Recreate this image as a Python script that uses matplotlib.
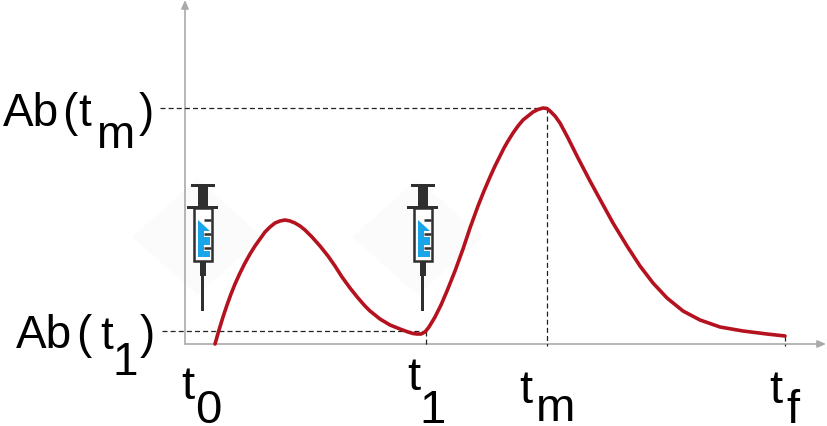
import matplotlib
matplotlib.use('Agg')
import matplotlib.pyplot as plt
from matplotlib.patches import Polygon, Rectangle

plt.rcParams['font.family'] = ['Liberation Sans', 'DejaVu Sans']

# values, in picture pixels
curve_x = [215, 219, 223, 227, 231, 235, 240, 245, 250, 255, 260, 265, 270, 275, 280, 285, 290, 295, 300, 305,
           312, 320, 328, 335, 342, 350, 358, 365, 370, 380, 390, 400, 408, 413, 417, 421, 425, 429, 435,
           441, 447, 455, 463, 470, 478, 484, 490, 495, 500, 504, 508, 513, 518, 523, 528, 533, 538, 543,
           547, 550, 555, 560, 568, 578, 590, 602, 613, 627, 640, 653, 667, 683, 700, 720, 743, 767, 785]
curve_y = [345, 331, 318, 306, 295, 285, 274, 264, 255, 247, 240, 233, 228, 224, 222, 221, 222, 224, 227, 231,
           238, 247, 257, 267, 278, 289, 299, 307, 312, 320, 326, 330, 333, 334.5, 335, 335, 333, 328, 318,
           306, 292, 272, 250, 229, 207, 192, 178, 167, 157, 149, 142, 134, 127, 121, 117, 113, 110.5, 109,
           109.5, 112, 117, 124, 139, 159, 182, 204, 224, 247, 267, 284, 299, 312, 321, 328, 332, 335, 337]

axis_x0 = 185
axis_y0 = 345
tm_x = 547
t1_x = 426
tf_x = 785
ab_tm = 109
ab_t1 = 332
syringe_x = [202.5, 422.5]

fig = plt.figure(figsize=(8.27, 4.27), dpi=100)
ax = fig.add_axes([0, 0, 1, 1])
ax.set_xlim(0, 827)
ax.set_ylim(427, 0)
ax.axis('off')

grey = '#aaaaaa'
ink = '#2f2f2f'


def draw_syringe(cx):
    ax.add_patch(Polygon([(cx - 70, 238), (cx - 5, 180), (cx + 60, 238), (cx - 5, 296)], color='#fbfbfb', lw=0, zorder=1))
    parts = [(-12, 185, 24, 2.5), (-5, 187, 10, 20), (-15.5, 206.5, 31, 3.5)]
    parts += [(-3, 262, 6, 15), (-1.5, 277, 3, 35)]
    for dx, y, w, h in parts:
        ax.add_patch(Rectangle((cx + dx, y), w, h, color=ink, lw=0, zorder=3))
    ax.add_patch(Rectangle((cx - 8.5, 209), 17.5, 53, fc='white', ec=ink, lw=1.8, zorder=3))
    ax.add_patch(Polygon([(cx - 4.5, 221), (cx + 7.5, 232), (cx + 7.5, 258), (cx - 4.5, 258)],
                         color='#18a5ea', lw=0, zorder=4))
    for y in [221, 235, 249]:
        ax.add_patch(Rectangle((cx + 1, y - 3), 7.5, 6, color='white', lw=0, zorder=4.5))
        ax.plot([cx + 1, cx + 8.5], [y, y], color=ink, lw=1.8, zorder=5, solid_capstyle='butt')


# axes
arrow = dict(arrowstyle='-|>,head_width=0.22,head_length=0.5', color=grey, lw=1.2, shrinkA=0, shrinkB=0)
ax.annotate('', xy=(826, axis_y0), xytext=(axis_x0, axis_y0), zorder=2, arrowprops=arrow)
ax.annotate('', xy=(axis_x0, 1), xytext=(axis_x0, axis_y0), zorder=2, arrowprops=arrow)

# guide lines
dash = dict(color='#222222', lw=0.9, ls=(0, (4, 2.5)), zorder=2)
ax.plot([160, tm_x], [ab_tm, ab_tm], **dash)
ax.plot([tm_x, tm_x], [ab_tm, axis_y0 + 2], **dash)
ax.plot([162, t1_x], [ab_t1, ab_t1], **dash)
ax.plot([t1_x, t1_x], [ab_t1, axis_y0 + 2], **dash)
ax.plot([tf_x, tf_x], [337, axis_y0 + 2], **dash)

for cx in syringe_x:
    draw_syringe(cx)

ax.plot(curve_x, curve_y, color='#b5121f', lw=2.6, solid_capstyle='round', solid_joinstyle='round', zorder=6)


def label(x, y, s, size=33):
    ax.text(x, y, s, fontsize=size, ha='left', va='baseline', color='black', zorder=7)


# y labels
label(3, 126, 'Ab')
label(62, 126, '(')
label(78, 126, 't')
label(96, 148, 'm')
label(139, 126, ')')
label(16, 348, 'Ab')
label(76, 348, '(')
label(100, 349, 't')
label(113, 375, '1')
label(140, 348, ')')
# x labels
label(181, 399, 't', 34)
label(195, 423, '0', 34)
label(407, 390, 't', 34)
label(419, 423, '1', 34)
label(519, 403, 't', 34)
label(536, 421, 'm', 34)
label(769, 403, 't', 34)
label(786, 423, 'f', 34)

fig.savefig('out.png', dpi=100)
